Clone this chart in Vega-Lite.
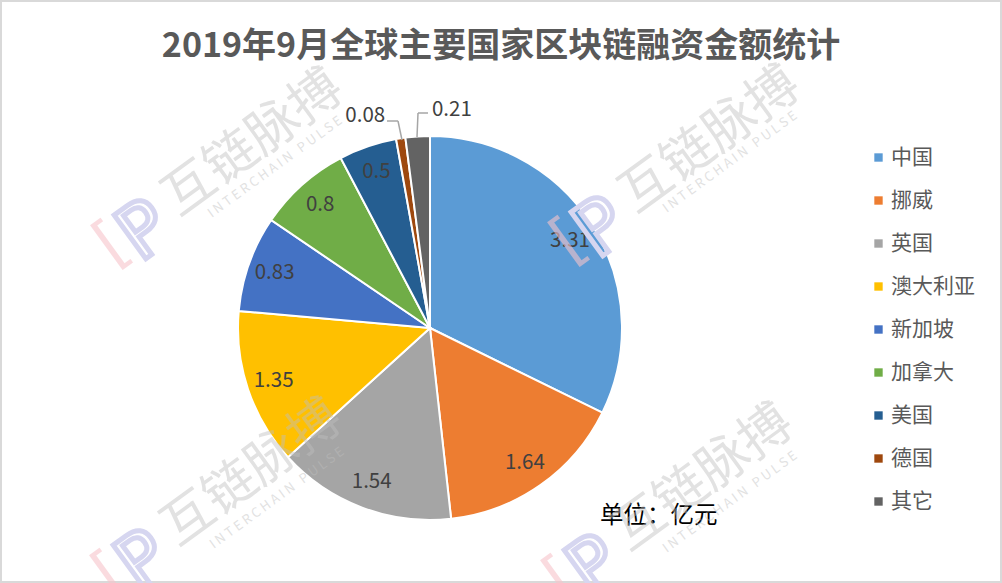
{
  "$schema": "https://vega.github.io/schema/vega-lite/v6.json",
  "width": 1002,
  "height": 583,
  "autosize": {"type": "none"},
  "padding": 0,
  "background": "white",
  "view": {"stroke": "#d9d9d9", "strokeWidth": 4},
  "config": {
    "font": "Noto Sans CJK SC"
  },
  "title": {
    "text": "2019年9月全球主要国家区块链融资金额统计",
    "fontSize": 34,
    "fontWeight": "bold",
    "color": "#595959",
    "anchor": "middle",
    "frame": "group",
    "baseline": "top",
    "offset": 0,
    "dy": 64
  },
  "data": {
    "values": [
      {"country": "中国", "value": 3.31, "order": 1},
      {"country": "挪威", "value": 1.64, "order": 2},
      {"country": "英国", "value": 1.54, "order": 3},
      {"country": "澳大利亚", "value": 1.35, "order": 4},
      {"country": "新加坡", "value": 0.83, "order": 5},
      {"country": "加拿大", "value": 0.8, "order": 6},
      {"country": "美国", "value": 0.5, "order": 7},
      {"country": "德国", "value": 0.08, "order": 8},
      {"country": "其它", "value": 0.21, "order": 9}
    ]
  },
  "layer": [
    {
      "mark": {"type": "arc", "outerRadius": 192, "stroke": "white", "strokeWidth": 2, "x": 430, "y": 328},
      "encoding": {
        "theta": {"field": "value", "type": "quantitative", "stack": true},
        "order": {"field": "order", "type": "quantitative"},
        "color": {
          "field": "country",
          "type": "nominal",
          "sort": null,
          "scale": {
            "domain": ["中国", "挪威", "英国", "澳大利亚", "新加坡", "加拿大", "美国", "德国", "其它"],
            "range": ["#5B9BD5", "#ED7D31", "#A5A5A5", "#FFC000", "#4472C4", "#70AD47", "#255E91", "#9E480E", "#636363"]
          },
          "legend": {
            "orient": "none",
            "legendX": 868,
            "legendY": 147,
            "title": null,
            "symbolType": "square",
            "symbolSize": 70,
            "symbolStrokeWidth": 0,
            "labelFontSize": 21,
            "labelColor": "#595959",
            "labelFont": "Noto Sans CJK SC",
            "rowPadding": 21,
            "labelOffset": 2
          }
        }
      }
    },
    {
      "mark": {"type": "text", "radius": 165, "x": 430, "y": 328, "fontSize": 20.5, "fill": "#404040"},
      "encoding": {
        "theta": {"field": "value", "type": "quantitative", "stack": true},
        "order": {"field": "order", "type": "quantitative"},
        "detail": {"field": "country", "type": "nominal"},
        "text": {
          "condition": {"test": "datum.value >= 0.5", "field": "value", "type": "quantitative", "format": "~g"},
          "value": ""
        }
      }
    },
    {
      "mark": {"type": "text", "radius": 215, "x": 430, "y": 328, "fontSize": 20.5, "fill": "#404040", "align": "right", "dx": -12},
      "encoding": {
        "theta": {"field": "value", "type": "quantitative", "stack": true},
        "order": {"field": "order", "type": "quantitative"},
        "detail": {"field": "country", "type": "nominal"},
        "text": {
          "condition": {"test": "datum.country === '德国'", "field": "value", "type": "quantitative", "format": "~g"},
          "value": ""
        }
      }
    },
    {
      "mark": {"type": "text", "radius": 218, "x": 430, "y": 328, "fontSize": 20.5, "fill": "#404040", "align": "left", "dx": 16},
      "encoding": {
        "theta": {"field": "value", "type": "quantitative", "stack": true},
        "order": {"field": "order", "type": "quantitative"},
        "detail": {"field": "country", "type": "nominal"},
        "text": {
          "condition": {"test": "datum.country === '其它'", "field": "value", "type": "quantitative", "format": "~g"},
          "value": ""
        }
      }
    },
    {
      "data": {"values": [{"a": 1}]},
      "layer": [
        {"mark": {"type": "rule", "stroke": "#a6a6a6", "strokeWidth": 1.5}, "encoding": {"x": {"value": 387}, "y": {"value": 121}, "x2": {"value": 398}, "y2": {"value": 121}}},
        {"mark": {"type": "rule", "stroke": "#a6a6a6", "strokeWidth": 1.5}, "encoding": {"x": {"value": 398}, "y": {"value": 121}, "x2": {"value": 402}, "y2": {"value": 140}}},
        {"mark": {"type": "rule", "stroke": "#a6a6a6", "strokeWidth": 1.5}, "encoding": {"x": {"value": 417}, "y": {"value": 137}, "x2": {"value": 418}, "y2": {"value": 113}}},
        {"mark": {"type": "rule", "stroke": "#a6a6a6", "strokeWidth": 1.5}, "encoding": {"x": {"value": 418}, "y": {"value": 113}, "x2": {"value": 428}, "y2": {"value": 113}}}
      ]
    },
    {
      "data": {"values": [{"note": "单位：亿元"}]},
      "mark": {"type": "text", "x": 600, "y": 516, "align": "left", "fontSize": 23.5, "fill": "#000000"},
      "encoding": {"text": {"field": "note", "type": "nominal"}}
    },
    {
      "data": {"values": [
        {"wm": "互链脉搏", "sub": "I\u00a0N\u00a0T\u00a0E\u00a0R\u00a0C\u00a0H\u00a0A\u00a0I\u00a0N\u00a0\u00a0\u00a0P\u00a0U\u00a0L\u00a0S\u00a0E", "p1": "[", "p2": "P"}
      ]},
      "layer": [
        {"mark": {"type": "text", "x": 253, "y": 143, "angle": 324, "fontSize": 52, "fill": "#bfbfbf", "opacity": 0.45}, "encoding": {"text": {"field": "wm", "type": "nominal"}}},
        {"mark": {"type": "text", "x": 275, "y": 167, "angle": 324, "fontSize": 13, "fill": "#bfbfbf", "opacity": 0.45}, "encoding": {"text": {"field": "sub", "type": "nominal"}}},
        {"mark": {"type": "text", "x": 710, "y": 140, "angle": 324, "fontSize": 52, "fill": "#bfbfbf", "opacity": 0.45}, "encoding": {"text": {"field": "wm", "type": "nominal"}}},
        {"mark": {"type": "text", "x": 730, "y": 162, "angle": 324, "fontSize": 13, "fill": "#bfbfbf", "opacity": 0.45}, "encoding": {"text": {"field": "sub", "type": "nominal"}}},
        {"mark": {"type": "text", "x": 252, "y": 473, "angle": 324, "fontSize": 52, "fill": "#bfbfbf", "opacity": 0.45}, "encoding": {"text": {"field": "wm", "type": "nominal"}}},
        {"mark": {"type": "text", "x": 277, "y": 498, "angle": 324, "fontSize": 13, "fill": "#bfbfbf", "opacity": 0.45}, "encoding": {"text": {"field": "sub", "type": "nominal"}}},
        {"mark": {"type": "text", "x": 703, "y": 478, "angle": 324, "fontSize": 52, "fill": "#bfbfbf", "opacity": 0.45}, "encoding": {"text": {"field": "wm", "type": "nominal"}}},
        {"mark": {"type": "text", "x": 730, "y": 502, "angle": 324, "fontSize": 13, "fill": "#bfbfbf", "opacity": 0.45}, "encoding": {"text": {"field": "sub", "type": "nominal"}}},
        {"mark": {"type": "text", "x": 112, "y": 244, "angle": 324, "fontSize": 62, "fill": "#f7c4cb", "opacity": 0.6, "font": "DejaVu Sans"}, "encoding": {"text": {"field": "p1", "type": "nominal"}}},
        {"mark": {"type": "text", "x": 145, "y": 232, "angle": 324, "fontSize": 74, "fill": "none", "stroke": "#d6d6f0", "strokeWidth": 5, "font": "DejaVu Sans"}, "encoding": {"text": {"field": "p2", "type": "nominal"}}},
        {"mark": {"type": "text", "x": 569, "y": 241, "angle": 324, "fontSize": 62, "fill": "#f7c4cb", "opacity": 0.6, "font": "DejaVu Sans"}, "encoding": {"text": {"field": "p1", "type": "nominal"}}},
        {"mark": {"type": "text", "x": 602, "y": 229, "angle": 324, "fontSize": 74, "fill": "none", "stroke": "#d6d6f0", "strokeWidth": 5, "font": "DejaVu Sans"}, "encoding": {"text": {"field": "p2", "type": "nominal"}}},
        {"mark": {"type": "text", "x": 111, "y": 574, "angle": 324, "fontSize": 62, "fill": "#f7c4cb", "opacity": 0.6, "font": "DejaVu Sans"}, "encoding": {"text": {"field": "p1", "type": "nominal"}}},
        {"mark": {"type": "text", "x": 144, "y": 562, "angle": 324, "fontSize": 74, "fill": "none", "stroke": "#d6d6f0", "strokeWidth": 5, "font": "DejaVu Sans"}, "encoding": {"text": {"field": "p2", "type": "nominal"}}},
        {"mark": {"type": "text", "x": 562, "y": 579, "angle": 324, "fontSize": 62, "fill": "#f7c4cb", "opacity": 0.6, "font": "DejaVu Sans"}, "encoding": {"text": {"field": "p1", "type": "nominal"}}},
        {"mark": {"type": "text", "x": 595, "y": 567, "angle": 324, "fontSize": 74, "fill": "none", "stroke": "#d6d6f0", "strokeWidth": 5, "font": "DejaVu Sans"}, "encoding": {"text": {"field": "p2", "type": "nominal"}}}
      ]
    }
  ]
}
